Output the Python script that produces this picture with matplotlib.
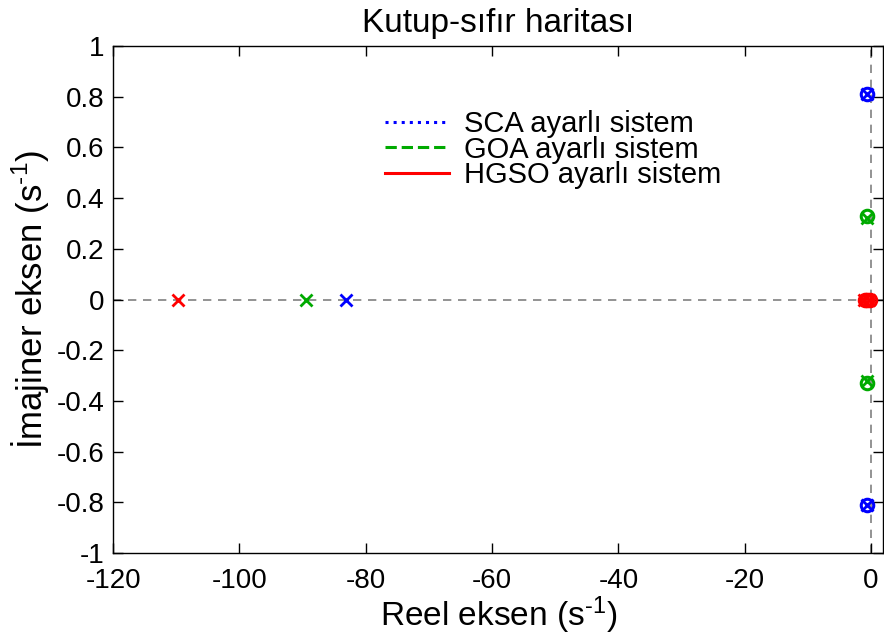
import numpy as np
import matplotlib
matplotlib.use("Agg")
import matplotlib.pyplot as plt
from matplotlib.lines import Line2D

plt.rcParams['font.family'] = ['Liberation Sans', 'DejaVu Sans']
plt.rcParams['mathtext.fontset'] = 'custom'
plt.rcParams['mathtext.rm'] = 'Liberation Sans'
plt.rcParams['mathtext.default'] = 'regular'

# kutuplar (x) ve sıfırlar (o): gerçek ve sanal kısımlar
sca_pole_re = [-83.2, -0.7, -0.7]
sca_pole_im = [0.0, 0.81, -0.81]
sca_zero_re = [-0.7, -0.7]
sca_zero_im = [0.81, -0.81]

goa_pole_re = [-89.4, -0.6, -0.6]
goa_pole_im = [0.0, 0.32, -0.32]
goa_zero_re = [-0.6, -0.6]
goa_zero_im = [0.33, -0.33]

hgso_pole_re = [-109.7, -1.2, -0.3]
hgso_pole_im = [0.0, 0.0, 0.0]
hgso_zero_re = [-1.0, -0.6, -0.2]
hgso_zero_im = [0.0, 0.0, 0.0]

names = ['SCA ayarlı sistem', 'GOA ayarlı sistem', 'HGSO ayarlı sistem']
colors = ['#0000ff', '#00aa00', '#ff0000']
styles = [':', '--', '-']

fig = plt.figure(figsize=(8.84, 6.38), dpi=100)
ax = fig.add_axes([0.128, 0.133, 0.871, 0.795])

# eksen çizgileri
ax.axhline(0, color='#808080', ls=(0, (5, 4)), lw=1.2, zorder=1)
ax.axvline(0, color='#808080', ls=(0, (5, 4)), lw=1.2, zorder=1)

groups = [
    (sca_pole_re, sca_pole_im, sca_zero_re, sca_zero_im),
    (goa_pole_re, goa_pole_im, goa_zero_re, goa_zero_im),
    (hgso_pole_re, hgso_pole_im, hgso_zero_re, hgso_zero_im),
]
for (pr, pi, zr, zi), c in zip(groups, colors):
    ax.plot(pr, pi, 'x', color=c, ms=9, mew=2, zorder=3)
    ax.plot(zr, zi, 'o', color=c, mfc='none', ms=9, mew=2.2, zorder=3)

handles = [Line2D([0], [0], color=c, ls=s, lw=2.2) for c, s in zip(colors, styles)]
ax.legend(handles, names, loc='upper left', bbox_to_anchor=(0.338, 0.897),
          frameon=False, fontsize=21, handlelength=2.2, handletextpad=0.5,
          labelspacing=-0.08, borderaxespad=0)

ax.set_xlim(-120, 1.9)
ax.set_ylim(-1, 1)
ax.set_xticks(np.arange(-120, 1, 20))
ax.set_xticklabels(['-120', '-100', '-80', '-60', '-40', '-20', '0'])
ax.set_yticks(np.arange(-1, 1.01, 0.2))
ax.set_yticklabels(['-1', '-0.8', '-0.6', '-0.4', '-0.2', '0',
                    '0.2', '0.4', '0.6', '0.8', '1'])
ax.tick_params(direction='in', top=True, right=True, length=7, width=1,
               labelsize=20)
ax.tick_params(axis='x', pad=11)
ax.tick_params(axis='y', pad=6)
for sp in ax.spines.values():
    sp.set_linewidth(1)

ax.set_title('Kutup-sıfır haritası', fontsize=24, pad=10)
ax.set_xlabel('Reel eksen (s$^{\u20101}$)', fontsize=24, labelpad=0)
ax.set_ylabel('İmajiner eksen (s$^{\u20101}$)', fontsize=25, labelpad=4)

fig.savefig('out.png', dpi=100)
